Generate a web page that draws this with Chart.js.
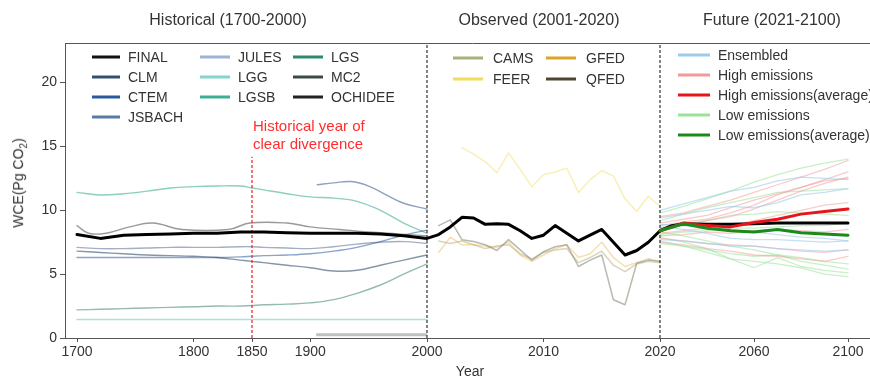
<!DOCTYPE html>
<html>
<head>
<meta charset="utf-8">
<script src="https://cdn.jsdelivr.net/npm/chart.js@4/dist/chart.umd.min.js"></script>
<style>
html,body{margin:0;padding:0;background:#fff;overflow:hidden;width:870px;height:378px;}
#wrap{position:relative;width:870px;height:378px;overflow:hidden;font-family:"Liberation Sans",Arial,sans-serif;color:#333;}
#c{position:absolute;left:0;top:0;}
.t{position:absolute;white-space:nowrap;line-height:1;}
.ptitle{font-size:16px;color:#333;transform:translate(-50%,-50%);}
.lt{font-size:14px;color:#333;transform:translateY(-50%);}
.sw{position:absolute;height:0;border-top:3px solid #000;transform:translateY(-1.5px);}
</style>
</head>
<body>
<div id="wrap">
<canvas id="c" width="880" height="378"></canvas>
<div class="t ptitle" style="left:228px;top:20px;">Historical (1700-2000)</div>
<div class="t ptitle" style="left:539px;top:20px;">Observed (2001-2020)</div>
<div class="t ptitle" style="left:772px;top:20px;">Future (2021-2100)</div>
<div class="t" style="left:253px;top:117px;font-size:15px;color:#ff2d2d;line-height:18px;">Historical year of<br>clear divergence</div>
<div class="t" style="left:20px;top:183px;font-size:14px;color:#333;transform:translate(-50%,-50%) rotate(-90deg);">WCE(Pg CO<sub style="font-size:10px;">2</sub>)</div>
<div class="t" style="left:470px;top:371px;font-size:14px;color:#333;transform:translate(-50%,-50%);">Year</div>
<div id="legends"></div>
</div>
<script>
// ---------------- DATA ----------------
const xTickYears = [1700, 1800, 1850, 1900, 2000, 2010, 2020, 2060, 2100];
const yTicks = [0, 5, 10, 15, 20];

// Historical (1700-2000)
const histYears = [1700,1720,1740,1760,1780,1800,1820,1840,1850,1860,1880,1900,1920,1940,1960,1980,2000];
const clmHist   = [6.8,6.7,6.6,6.5,6.45,6.4,6.3,6.1,6.0,5.9,5.7,5.5,5.25,5.3,5.7,6.1,6.5];
const ctemHist  = [6.3,6.3,6.3,6.3,6.3,6.3,6.3,6.35,6.4,6.45,6.5,6.6,6.8,7.1,7.55,8.05,8.45];
const julesHist = [7.1,7.0,7.0,7.05,7.1,7.1,7.1,7.15,7.15,7.1,7.05,7.0,7.15,7.35,7.5,7.55,7.4];
const lggHist   = [1.45,1.45,1.45,1.45,1.45,1.45,1.45,1.45,1.45,1.45,1.45,1.45,1.45,1.45,1.45,1.45,1.45];
const lgsbHist  = [11.4,11.2,11.3,11.5,11.75,11.85,11.9,11.9,11.75,11.6,11.3,11.05,10.95,10.7,10.0,9.0,8.2];
const lgsHist   = [2.2,2.25,2.3,2.35,2.4,2.45,2.5,2.5,2.55,2.6,2.65,2.75,3.0,3.5,4.15,5.0,5.8];
const jsbachYears = [1906,1920,1935,1950,1965,1980,2000];
const jsbachHist  = [12.0,12.15,12.25,11.9,11.2,10.55,10.1];
const mc2Years = [1700,1710,1725,1745,1765,1790,1830,1848,1880,1900,1925,1950,1975,2000];
const mc2Hist  = [8.8,8.2,8.2,8.7,9.0,8.5,8.5,9.0,9.0,8.7,8.5,8.3,8.15,8.0];
const ochideeYears = [1905,2000];
const ochideeHist  = [0.25,0.25];

// FINAL (all periods)
const finalYears  = [1700,1720,1740,1760,1780,1800,1820,1840,1850,1860,1880,1900,1920,1940,1960,1980,2000,
                     2001,2002,2003,2004,2005,2006,2007,2008,2009,2010,2011,2012,2013,2014,2015,2016,2017,2018,2019,2020,
                     2025,2030,2040,2050,2060,2070,2080,2090,2100];
const finalValues = [8.1,7.8,8.05,8.1,8.15,8.2,8.2,8.3,8.3,8.3,8.25,8.2,8.2,8.2,8.15,8.0,7.8,
                     8.1,8.7,9.45,9.4,8.9,8.95,8.9,8.4,7.8,8.05,8.8,8.2,7.6,8.05,8.5,7.5,6.5,6.85,7.5,8.4,
                     8.8,8.95,8.9,8.9,8.95,9.0,9.0,9.0,9.0];

// Observed (2001-2020)
const obsYears = [2001,2002,2003,2004,2005,2006,2007,2008,2009,2010,2011,2012,2013,2014,2015,2016,2017,2018,2019,2020];
const camsObs  = [8.8,9.25,7.7,7.55,7.3,6.85,7.7,6.9,6.1,6.75,7.15,7.3,5.6,6.1,6.5,3.0,2.6,5.85,6.1,6.0];
const gfedObs  = [6.7,7.9,7.3,7.3,7.2,7.1,7.5,6.5,6.0,6.5,7.0,7.3,6.3,6.6,7.5,6.3,5.6,5.9,6.2,6.0];
const qfedObs  = [7.6,7.4,7.6,7.3,7.0,7.2,7.3,6.6,6.2,6.7,6.9,7.0,5.9,6.3,6.8,5.7,5.2,5.8,6.0,5.9];
const feerYears = [2003,2004,2005,2006,2007,2008,2009,2010,2011,2012,2013,2014,2015,2016,2017,2018,2019,2020];
const feerObs   = [14.9,14.4,13.8,12.95,14.5,13.2,11.85,12.8,13.0,13.3,11.4,12.4,13.1,12.7,10.9,9.9,11.1,10.3];

// Future (2021-2100)
const futYears = [2020,2030,2040,2050,2060,2070,2080,2090,2100];
const highAvg  = [8.4,9.0,8.8,8.7,9.05,9.3,9.7,9.9,10.1];
const lowAvg   = [8.4,8.95,8.6,8.4,8.3,8.5,8.25,8.15,8.05];
const highRuns = [
  [9.5,9.8,10.3,10.8,11.4,12.0,12.6,13.2,13.9],
  [9.0,9.3,9.6,10.2,10.8,11.3,11.8,12.4,13.0],
  [8.5,8.8,9.2,9.5,10.1,10.8,11.5,12.1,12.6],
  [8.8,9.1,9.3,9.8,10.4,11.2,11.8,12.3,12.5],
  [8.2,8.4,8.6,8.8,9.2,9.6,10.0,10.4,10.6],
  [7.8,7.6,7.4,7.3,7.2,7.0,6.8,6.7,6.9],
  [7.5,7.3,7.0,6.8,6.5,6.4,6.2,6.0,6.4],
  [8.0,8.1,8.3,8.2,8.4,8.5,8.4,8.3,8.5]
];
const lowRuns = [
  [9.8,10.3,10.9,11.5,12.2,12.8,13.3,13.7,14.0],
  [9.2,9.7,10.2,10.6,11.0,11.4,11.5,11.6,11.7],
  [8.6,8.9,9.2,9.6,9.7,9.9,9.8,9.7,9.6],
  [8.3,8.0,7.6,7.2,6.9,6.5,6.3,6.0,5.8],
  [7.9,7.5,7.0,6.2,5.5,6.3,5.6,5.3,5.1],
  [7.6,7.2,6.7,6.2,6.0,5.8,5.5,5.0,4.8],
  [8.1,8.3,8.4,8.6,8.6,8.7,8.8,8.8,9.0],
  [7.4,7.2,6.9,6.6,6.4,6.5,6.0,5.7,5.4]
];
const ensRuns = [
  [10.0,10.5,11.0,11.5,11.8,12.3,12.6,12.5,12.4],
  [9.4,9.7,10.0,10.3,10.2,10.6,11.2,11.4,11.7],
  [8.7,8.5,8.2,7.8,7.7,7.7,7.6,7.5,7.6],
  [8.9,8.8,8.6,8.5,8.3,8.1,7.9,7.8,7.6],
  [7.7,7.6,7.4,7.2,7.2,7.0,6.9,6.8,6.9]
];

// Reference lines
const dividerYears = [2000, 2020];
const divergenceYear = 1850;
const divergenceTop = 14.2;

// Legend labels
const histNames  = ['FINAL','CLM','CTEM','JSBACH','JULES','LGG','LGSB','LGS','MC2','OCHIDEE'];
const histColors = ['#111111','#34506e','#2a5a9e','#5b7aa6','#9bb5d3','#85d6ca','#3fae94','#2e8a68','#3d4b47','#222222'];
const obsNames   = ['CAMS','FEER','GFED','QFED'];
const obsColors  = ['#a9b27c','#f2de5a','#d9a626','#4f4631'];
const futNames   = ['Ensembled','High emissions','High emissions(average)','Low emissions','Low emissions(average)'];
const futColors  = ['#9fcbea','#f29a9a','#e8141c','#9be39b','#1b8a1b'];

// ---------------- piecewise x mapping ----------------
function u(y){
  if (y <= 2000) return (y - 1700) * 350 / 300;
  if (y <= 2020) return 350 + (y - 2000) * 233 / 20;
  return 583 + (y - 2020) * 188 / 80;
}
function pts(years, vals){ return years.map((y,i)=>({x:u(y), y:vals[i]})); }
function hexA(hex,a){
  const n=parseInt(hex.slice(1),16);
  return `rgba(${(n>>16)&255},${(n>>8)&255},${n&255},${a})`;
}

const datasets = [];
function add(data, color, width, extra){
  datasets.push(Object.assign({data, borderColor:color, borderWidth:width, pointRadius:0, fill:false, tension:0, borderJoinStyle:'round', borderCapStyle:'round'}, extra||{}));
}
// top-most first
add(pts(futYears, lowAvg), futColors[4], 3);
add(pts(futYears, highAvg), futColors[2], 3);
add(pts(finalYears, finalValues), '#000', 3);
add(pts([dividerYears[0], dividerYears[0]], [0, 23.1]), '#333', 1.2, {borderDash:[3,2], borderCapStyle:'butt'});
add(pts([dividerYears[1], dividerYears[1]], [0, 23.1]), '#333', 1.2, {borderDash:[3,2], borderCapStyle:'butt'});
add(pts([divergenceYear, divergenceYear], [0, divergenceTop]), 'rgba(240,40,40,0.9)', 1.4, {borderDash:[3,2], borderCapStyle:'butt'});
// observed
add(pts(obsYears, camsObs), 'rgba(140,140,120,0.6)', 1.5);
add(pts(obsYears, gfedObs), hexA(obsColors[2],0.35), 1.5);
add(pts(obsYears, qfedObs), 'rgba(150,130,70,0.35)', 1.5);
add(pts(feerYears, feerObs), hexA(obsColors[1],0.45), 1.5);
// historical
const ht = {tension:0.4};
add(pts(histYears, clmHist), hexA(histColors[1],0.6), 1.4, ht);
add(pts(histYears, ctemHist), hexA(histColors[2],0.55), 1.4, ht);
add(pts(jsbachYears, jsbachHist), hexA(histColors[3],0.7), 1.4, ht);
add(pts(histYears, julesHist), hexA('#5a6f8f',0.55), 1.4, ht);
add(pts(histYears, lggHist), hexA(histColors[5],0.7), 1.4, ht);
add(pts(histYears, lgsbHist), hexA(histColors[6],0.6), 1.4, ht);
add(pts(histYears, lgsHist), hexA('#4f8c7a',0.6), 1.4, ht);
add(pts(mc2Years, mc2Hist), hexA('#555555',0.6), 1.4, ht);
add(pts(ochideeYears, ochideeHist), 'rgba(140,140,140,0.55)', 3, {borderCapStyle:'butt'});
// future runs
ensRuns.forEach(r=>add(pts(futYears, r), hexA(futColors[0],0.6), 1.3));
highRuns.forEach(r=>add(pts(futYears, r), hexA(futColors[1],0.5), 1.3));
lowRuns.forEach(r=>add(pts(futYears, r), hexA(futColors[3],0.55), 1.3));

const frameTop = {
  id:'frameTop',
  afterDraw(chart){
    const {ctx, chartArea:a} = chart;
    ctx.save();
    ctx.strokeStyle = '#555'; ctx.lineWidth = 1;
    ctx.beginPath(); ctx.moveTo(a.left, a.top+0.5); ctx.lineTo(a.right, a.top+0.5); ctx.stroke();
    ctx.restore();
  }
};

new Chart(document.getElementById('c'), {
  type:'line',
  data:{datasets},
  options:{
    responsive:false, animation:false, devicePixelRatio:1,
    layout:{padding:{top:43, left:0, right:0, bottom:0}},
    plugins:{legend:{display:false}, tooltip:{enabled:false}},
    scales:{
      x:{
        type:'linear', min:-12, max:803,
        afterBuildTicks(s){ s.ticks = xTickYears.map(y=>({value:u(y)})); },
        afterFit(s){ s.height = 40; },
        ticks:{autoSkip:false, maxRotation:0, padding:2, color:'#333',
          font:{family:'"Liberation Sans", Arial, sans-serif', size:14},
          callback:(v,i)=>String(xTickYears[i])},
        grid:{display:true, drawOnChartArea:false, drawTicks:true, tickLength:4, color:'#555'},
        border:{display:true, color:'#555', width:1}
      },
      y:{
        type:'linear', min:0, max:23.1,
        afterBuildTicks(s){ s.ticks = yTicks.map(v=>({value:v})); },
        afterFit(s){ s.width = 65; },
        ticks:{padding:3, color:'#333', font:{family:'"Liberation Sans", Arial, sans-serif', size:14},
          callback:(v)=>String(v)},
        grid:{display:true, drawOnChartArea:false, drawTicks:true, tickLength:5, color:'#555'},
        border:{display:true, color:'#555', width:1}
      }
    }
  },
  plugins:[frameTop]
});

// ---------------- HTML legends ----------------
const L = document.getElementById('legends');
function legItem(x1, x2, tx, y, color, text){
  const s = document.createElement('div'); s.className='sw';
  s.style.left = x1+'px'; s.style.width = (x2-x1)+'px'; s.style.top = y+'px'; s.style.borderTopColor = color;
  L.appendChild(s);
  const t = document.createElement('div'); t.className='t lt';
  t.style.left = tx+'px'; t.style.top = y+'px'; t.textContent = text;
  L.appendChild(t);
}
const histCols = [[92,120,128],[200,230,238],[293,323,331]];
const histRows = [57,77,97,117];
const histLayout = [[0,0],[0,1],[0,2],[0,3],[1,0],[1,1],[1,2],[2,0],[2,1],[2,2]];
histNames.forEach((n,i)=>{
  const [c,r] = histLayout[i]; const col = histCols[c];
  legItem(col[0], col[1], col[2], histRows[r], histColors[i], n);
});
const obsLayout = [[453,483,493,58],[453,483,493,79],[546,576,586,58],[546,576,586,79]];
obsNames.forEach((n,i)=>{ const p=obsLayout[i]; legItem(p[0],p[1],p[2],p[3],obsColors[i],n); });
const futRows = [55,75,95,115,135];
futNames.forEach((n,i)=>legItem(678,710,718,futRows[i],futColors[i],n));
</script>
</body>
</html>
